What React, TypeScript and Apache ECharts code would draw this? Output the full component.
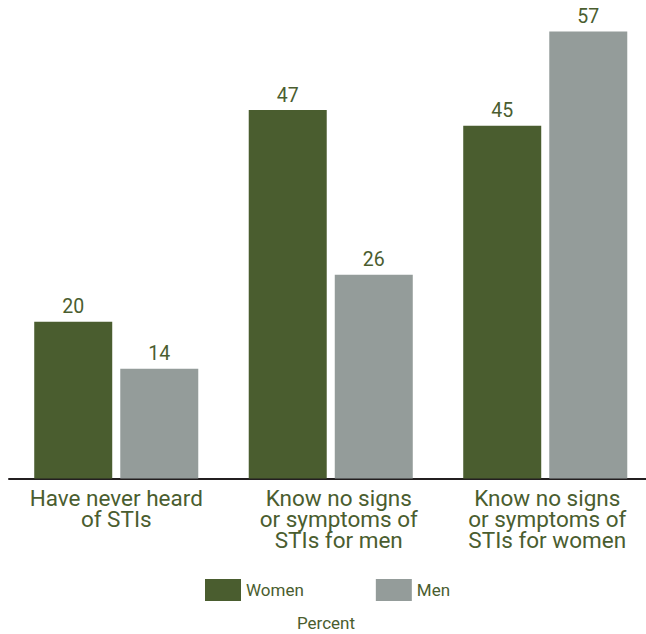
import React, { useEffect, useRef } from "react";
import * as echarts from "echarts";

const categories = [
  "Have never heard\nof STIs",
  "Know no signs\nor symptoms of\nSTIs for men",
  "Know no signs\nor symptoms of\nSTIs for women",
];
const women = [20, 47, 45];
const men = [14, 26, 57];

const GREEN = "#4a5d2f";
const GRAY = "#949c9a";
const FONT = "Roboto";

// horizontal nudge of each category label (px), as in the reference layout
const labelShift = [0, 8, 2];

export default function App() {
  const ref = useRef<HTMLDivElement>(null);
  useEffect(() => {
    if (!ref.current) return;
    const chart = echarts.init(ref.current, null, { renderer: "svg" });
    chart.setOption({
      animation: false,
      textStyle: { fontFamily: FONT },
      grid: { left: 9, right: 0.5, top: 8.1, bottom: 155.5, containLabel: false },
      title: {
        text: "Percent",
        left: 326,
        textAlign: "center",
        top: 614,
        padding: 0,
        textStyle: { color: GREEN, fontSize: 17, fontWeight: "normal", fontFamily: FONT },
      },
      legend: {
        left: 200,
        top: 574,
        itemWidth: 36,
        itemHeight: 22,
        itemGap: 72,
        icon: "rect",
        textStyle: { color: GREEN, fontSize: 17, fontFamily: FONT },
        data: ["Women", "Men"],
      },
      xAxis: {
        type: "category",
        data: categories.map((c, i) => ({
          value: c,
          textStyle: { padding: [0, 0, 0, labelShift[i] * 2] },
        })),
        axisLine: { lineStyle: { color: "#231f20", width: 2 } },
        axisTick: { show: false },
        axisLabel: {
          color: GREEN,
          fontSize: 22.5,
          lineHeight: 21,
          margin: 9,
          interval: 0,
          fontFamily: FONT,
        },
      },
      yAxis: {
        type: "value",
        min: 0,
        max: 60,
        show: false,
        splitLine: { show: false },
      },
      series: [
        {
          name: "Women",
          type: "bar",
          data: women,
          barWidth: 78,
          barGap: "10.3%",
          itemStyle: { color: GREEN },
          label: {
            show: true,
            position: "top",
            distance: 5,
            color: GREEN,
            fontSize: 19.5,
            fontFamily: FONT,
          },
        },
        {
          name: "Men",
          type: "bar",
          data: men,
          barWidth: 78,
          itemStyle: { color: GRAY },
          label: {
            show: true,
            position: "top",
            distance: 5,
            color: GREEN,
            fontSize: 19.5,
            fontFamily: FONT,
          },
        },
      ],
    });
    return () => chart.dispose();
  }, []);
  return (
    <div
      style={{
        position: "absolute",
        left: 0,
        top: 0,
        width: 646,
        height: 634,
        overflow: "hidden",
      }}
    >
      <div ref={ref} style={{ width: 653, height: 634 }} />
    </div>
  );
}
